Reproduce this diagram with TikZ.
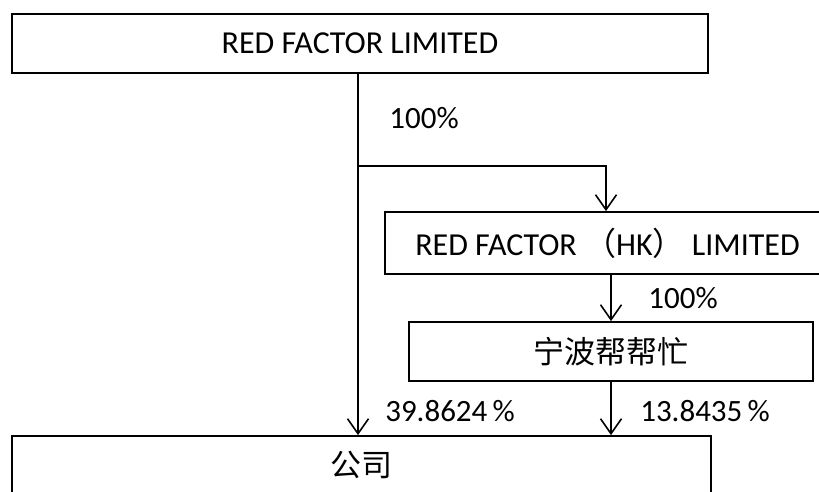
\documentclass[tikz,border=0pt]{standalone}
\usepackage{fontspec}
\setmainfont{Carlito}
\newfontfamily\cjk{Noto Sans CJK SC}
\usetikzlibrary{arrows.meta}
\begin{document}
\begin{tikzpicture}[x=1pt,y=-1pt,
  box/.style={draw, line width=1.8pt, inner sep=0pt, font=\fontsize{32}{36}\selectfont},
  conn/.style={line width=1.6pt},
  arr/.style={conn, -{Straight Barb[length=15pt,width=21pt,line width=1.6pt]}},
  lbl/.style={font=\fontsize{31}{36}\selectfont, inner sep=0pt}]
\useasboundingbox (0,0) rectangle (819,491);
\clip (0,0) rectangle (819,491);
\node[box, minimum width=696pt, minimum height=59pt] (top) at (360,43.5) {RED FACTOR LIMITED};
\node[box, minimum width=445pt, minimum height=62pt] (hk) at (607.5,243) {RED FACTOR {\cjk （}HK{\cjk ）} LIMITED};
\node[box, minimum width=404pt, minimum height=59pt] (nb) at (611,351.5) {\cjk\fontsize{31}{36}\selectfont 宁波帮帮忙};
\node[box, minimum width=699pt, minimum height=58pt] (co) at (361.5,465) {\cjk\fontsize{31}{36}\selectfont 公司};
\coordinate (br) at (358,166);
\draw[arr] (top.south -| br) -- (co.north -| br);
\draw[arr] (br) -| (hk.north -| 606,0);
\draw[arr] (hk.south -| 611,0) -- (nb.north -| 611,0);
\draw[arr] (nb.south -| 611,0) -- (co.north -| 611,0);
\node[lbl] (l1) at (424,118) {100\%};
\node[lbl] (l2) at (683,298) {100\%};
\node[lbl] (l3) at (450,411) {39.8624\,\%};
\node[lbl] (l4) at (705,411) {13.8435\,\%};
\end{tikzpicture}
\end{document}
